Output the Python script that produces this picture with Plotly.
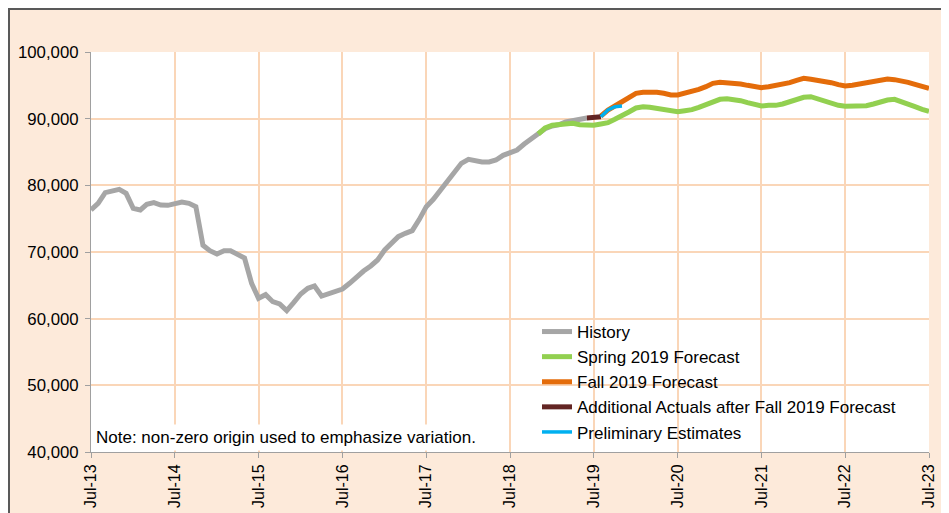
import pandas as pd
import plotly.graph_objects as go

# ---------------- data ----------------
months = pd.date_range("2013-07-01", periods=121, freq="MS")

history = [76300, 77300, 78900, 79200, 79400, 78800, 76550, 76300, 77150, 77400,
           77050, 77000, 77300, 77500, 77300, 76800, 71000, 70200, 69700, 70200,
           70200, 69600, 69100, 65300, 63050, 63600, 62550, 62200, 61200, 62400,
           63700, 64550, 64900, 63400, 63700, 64100, 64450, 65300, 66300, 67150,
           67900, 68800, 70300, 71300, 72300, 72800, 73200, 74900, 76800, 77900,
           79300, 80700, 82000, 83300, 83900, 83600, 83500, 83500, 83800, 84500,
           84900, 85300, 86200, 87000, 87700, 88500, 88900, 89100, 89500, 89700,
           89900, 90100]  # Jul-13 .. Jun-19

spring_2019 = [87700, 88600, 89000, 89100, 89300, 89300, 89100, 89000, 89000, 89200,
               89400, 89900, 90400, 91000, 91600, 91800, 91700, 91550, 91400, 91100,
               91050, 91200, 91350, 91700, 92100, 92500, 92900, 93000, 92900, 92700,
               92400, 92100, 91900, 92000, 92000, 92200, 92500, 92900, 93200, 93300,
               93000, 92700, 92300, 92000, 91850, 91850, 91850, 91950, 92200, 92500,
               92800, 92900, 92600, 92200, 91800, 91400, 91100]  # Nov-18 .. Jul-23

fall_2019 = [90400, 91300, 91900, 92600, 93300, 93800, 93950, 94000, 93950, 93800,
             93550, 93550, 93800, 94100, 94400, 94800, 95300, 95450, 95400, 95300,
             95200, 95000, 94750, 94650, 94800, 95000, 95150, 95400, 95750, 96050,
             95900, 95800, 95650, 95400, 95100, 94900, 95000, 95200, 95300, 95500,
             95750, 95950, 95850, 95700, 95450, 95150, 94800, 94550]  # Aug-19 .. Jul-23

additional_actuals = [90100, 90250, 90300]  # Jun-19 .. Aug-19
preliminary = [90300, 91300, 91800, 91900]   # Aug-19 .. Nov-19

tick_dates = pd.date_range("2013-07-01", "2023-07-01", freq="12MS")
tick_labels = [d.strftime("%b-%y") for d in tick_dates]
y_ticks = [40000, 50000, 60000, 70000, 80000, 90000, 100000]

series = [
    ("History", months[0:72], history, "#A6A6A6", 5),
    ("Spring 2019 Forecast", months[64:121], spring_2019, "#92D050", 5),
    ("Fall 2019 Forecast", months[73:121], fall_2019, "#E46C0A", 5),
    ("Additional Actuals after Fall 2019 Forecast", months[71:74], additional_actuals, "#632523", 5),
    ("Preliminary Estimates", months[73:77], preliminary, "#00B0F0", 3.5),
]

FONT = "Liberation Sans, Arial, sans-serif"

fig = go.Figure()
for name, x, y, color, w in series:
    fig.add_trace(go.Scatter(x=x, y=y, name=name, mode="lines",
                             line=dict(color=color, width=w)))

# page has an 8px body margin; figure is placed at page (8, 8)
OFF = 8
W, H = 949 - OFF, 513 - OFF
PL, PR, PT, PB = 91, 929, 52, 452          # plot area in page pixels
L, R, T, B = PL - OFF, W - (PR - OFF), PT - OFF, H - (PB - OFF)
pw, ph = PR - PL, PB - PT

def px_x(p):
    return (p - PL) / pw

def px_y(p):
    return (PB - p) / ph

shapes = [
    # peach frame with dark border
    dict(type="rect", xref="paper", yref="paper", layer="below",
         x0=px_x(9), x1=px_x(1000), y0=px_y(600), y1=px_y(9),
         fillcolor="#FDEADA", line=dict(color="#595959", width=2)),
    # white plot area
    dict(type="rect", xref="paper", yref="paper", layer="below",
         x0=0, x1=1, y0=0, y1=1, fillcolor="white", line=dict(width=0)),
    # white legend box covering the gridlines
    dict(type="rect", xref="paper", yref="paper", layer="between",
         x0=px_x(512), x1=px_x(917), y0=px_y(447), y1=px_y(318),
         fillcolor="white", line=dict(width=0)),
]

fig.update_layout(
    width=W, height=H,
    margin=dict(l=L, r=R, t=T, b=B, pad=0, autoexpand=False),
    paper_bgcolor="white",
    plot_bgcolor="white",
    font=dict(family=FONT, size=16, color="#000000"),
    shapes=shapes,
    showlegend=True,
    legend=dict(x=px_x(537), xanchor="left", y=px_y(314), yanchor="top",
                bgcolor="rgba(0,0,0,0)", borderwidth=0,
                font=dict(family=FONT, size=17, color="#000000"),
                tracegroupgap=0, itemwidth=30),
    annotations=[dict(text="Note: non-zero origin used to emphasize variation.",
                      xref="paper", yref="paper", x=px_x(92), y=px_y(451),
                      xanchor="left", yanchor="bottom", showarrow=False,
                      bgcolor="white", borderpad=3,
                      font=dict(family=FONT, size=17, color="#000000"))],
)

fig.update_xaxes(
    type="date", range=[months[0], months[120]], automargin=False,
    tickvals=tick_dates, ticktext=tick_labels, tickangle=-90,
    tickfont=dict(family=FONT, size=16),
    showgrid=True, gridcolor="#FAD6B8", gridwidth=2,
    showline=True, linecolor="#A0A0A0", linewidth=1,
    ticks="outside", ticklen=5, tickcolor="#A0A0A0",
    zeroline=False, fixedrange=True,
)
fig.update_yaxes(
    range=[40000, 100000], automargin=False, tickvals=y_ticks,
    ticktext=[f"{v:,}" for v in y_ticks],
    tickfont=dict(family=FONT, size=16.8),
    ticklabelstandoff=3,
    showgrid=True, gridcolor="#FAD6B8", gridwidth=1.5,
    showline=True, linecolor="#A0A0A0", linewidth=1,
    ticks="outside", ticklen=5, tickcolor="#A0A0A0",
    zeroline=False, fixedrange=True,
)

fig.write_html("out.html")
